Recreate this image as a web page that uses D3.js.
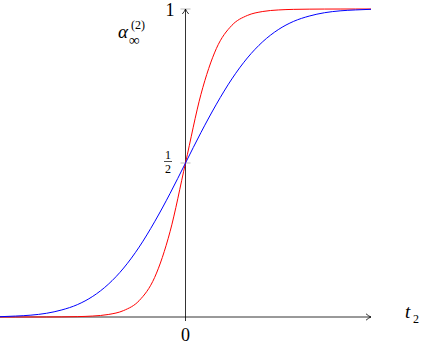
<!DOCTYPE html>
<html>
<head>
<meta charset="utf-8">
<script src="https://cdn.jsdelivr.net/npm/d3@7"></script>
<style>
    body { margin: 0; background: #fff; }
</style>
</head>
<body>
<div id="chart"></div>
<script>
// Values (t from -3 to 3, step 0.25)
var tValues = [-3, -2.75, -2.5, -2.25, -2, -1.75, -1.5, -1.25, -1, -0.75, -0.5, -0.25, 0,
               0.25, 0.5, 0.75, 1, 1.25, 1.5, 1.75, 2, 2.25, 2.5, 2.75, 3];
var blueValues = [0.001, 0.003, 0.006, 0.012, 0.023, 0.040, 0.067, 0.106, 0.159, 0.227, 0.309, 0.401, 0.5,
                  0.599, 0.691, 0.773, 0.841, 0.894, 0.933, 0.960, 0.977, 0.988, 0.994, 0.997, 0.999];
var redValues = [0.0, 0.0, 0.0001, 0.0002, 0.0005, 0.0012, 0.0031, 0.0081, 0.021, 0.053, 0.128, 0.277, 0.5,
                 0.723, 0.872, 0.947, 0.979, 0.9919, 0.9969, 0.9988, 0.9995, 0.9998, 0.9999, 1.0, 1.0];
var yTickValues = [0.5, 1];

var width = 422;
var height = 344;
var serif = "Liberation Serif";

var svg = d3.select("#chart").append("svg")
    .attr("width", width).attr("height", height)
    .attr("font-family", serif);

var x = d3.scaleLinear().domain([-3, 3]).range([0, 371]);
var y = d3.scaleLinear().domain([0, 1]).range([317, 9]);

// gray tick marks on the vertical axis
svg.selectAll("line.ytick")
    .data(yTickValues)
    .enter().append("line")
    .attr("class", "ytick")
    .attr("x1", x(0) - 5).attr("x2", x(0) + 5)
    .attr("y1", function(d) { return y(d); })
    .attr("y2", function(d) { return y(d); })
    .style("stroke", "#aaa")
    .style("stroke-width", 0.8);

// axes
svg.append("line")
    .attr("x1", x(-3)).attr("x2", x(3))
    .attr("y1", y(0)).attr("y2", y(0))
    .style("stroke", "black").style("stroke-width", 0.8);
svg.append("line")
    .attr("x1", x(0)).attr("x2", x(0))
    .attr("y1", y(0) + 4).attr("y2", y(1))
    .style("stroke", "black").style("stroke-width", 0.8);

// latex style arrow tips
function arrowTip(px, py, angle) {
    svg.append("path")
        .attr("d", "M-5,-3.2 Q-2,-0.6 0,0 Q-2,0.6 -5,3.2")
        .attr("transform", "translate(" + px + "," + py + ") rotate(" + angle + ")")
        .style("fill", "none").style("stroke", "black").style("stroke-width", 0.8);
}
arrowTip(x(3), y(0), 0);
arrowTip(x(0), y(1), -90);

// curves
var line = d3.line()
    .x(function(d) { return x(d[0]); })
    .y(function(d) { return y(d[1]); })
    .curve(d3.curveMonotoneX);

svg.append("path")
    .datum(d3.zip(tValues, redValues))
    .attr("d", line)
    .style("fill", "none").style("stroke", "#ff0000").style("stroke-width", 1);

svg.append("path")
    .datum(d3.zip(tValues, blueValues))
    .attr("d", line)
    .style("fill", "none").style("stroke", "#0000ff").style("stroke-width", 1);

// helper for labels
function label(px, py, size, txt, italic, anchor) {
    return svg.append("text")
        .attr("x", px).attr("y", py)
        .attr("text-anchor", anchor || "start")
        .attr("font-family", serif)
        .style("font-size", size + "px")
        .style("font-style", italic ? "italic" : "normal")
        .style("fill", "black")
        .text(txt);
}

label(170, 16, 18, "1", false, "middle");
label(x(0), 341, 18, "0", false, "middle");

// one half as a fraction
label(168, 158.5, 12, "1", false, "middle");
svg.append("line")
    .attr("x1", 164).attr("x2", 172).attr("y1", 161.5).attr("y2", 161.5)
    .style("stroke", "black").style("stroke-width", 0.7);
label(168, 173, 12, "2", false, "middle");

// alpha label
label(118, 38, 19, "α", true);
label(129, 45, 15, "∞", false);
label(131, 29, 12, "(2)", false);

// t_2 label
label(405, 318, 19, "t", true);
label(413, 323, 12, "2", false);
</script>
</body>
</html>
